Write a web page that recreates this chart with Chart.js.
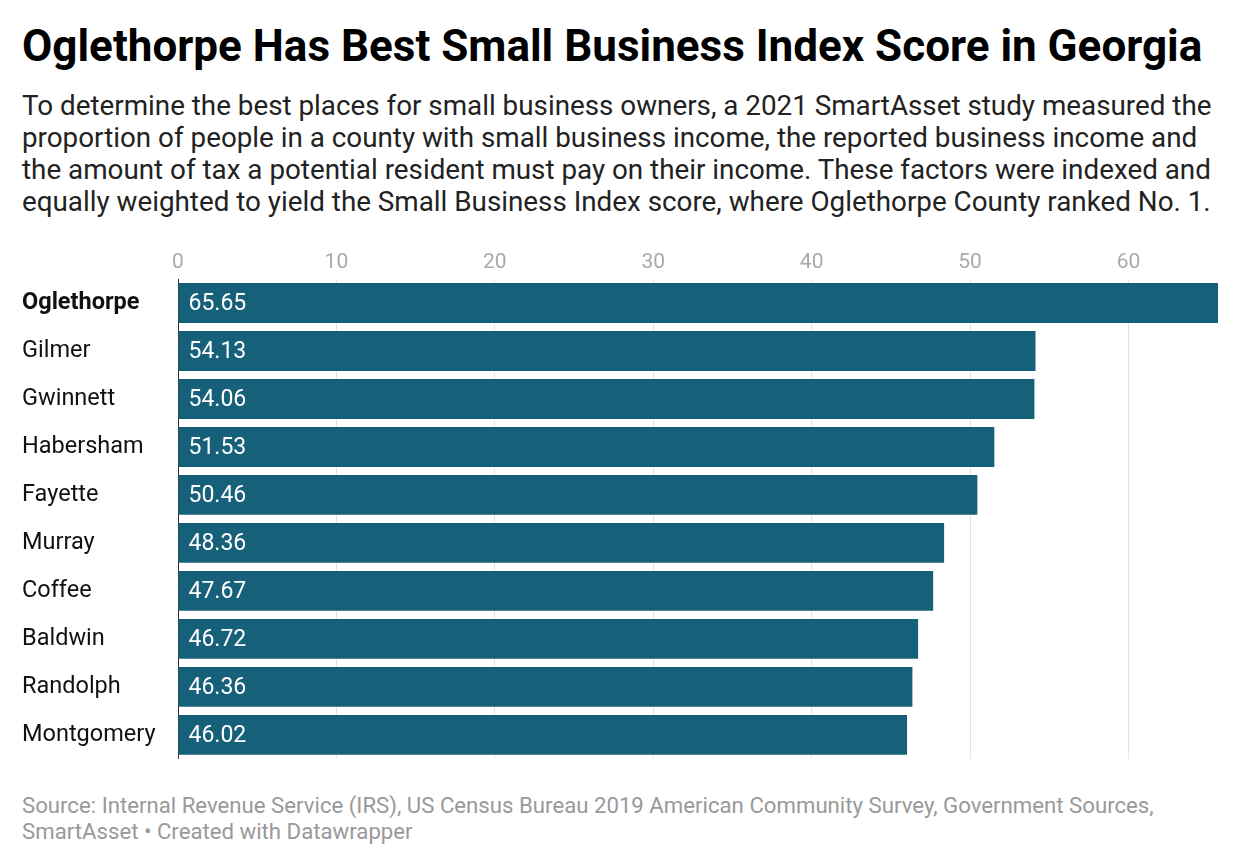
<!DOCTYPE html>
<html><head><meta charset="utf-8">
<script src="https://cdn.jsdelivr.net/npm/chart.js@4"></script>
<style>
body{margin:0;width:1240px;height:866px;background:#fff;font-family:Roboto,sans-serif;position:relative}
#title{position:absolute;left:22px;top:20px;font-size:44px;font-weight:bold;color:#000;white-space:nowrap}
#sub{position:absolute;left:22px;top:90px;width:1218px;font-size:27.8px;line-height:32px;color:#222}
#wrap{position:absolute;left:0;top:241px;width:1240px;height:532px}
#foot{position:absolute;left:22px;top:792px;font-size:22.2px;line-height:26px;color:#999}
</style></head><body>
<div id="title">Oglethorpe Has Best Small Business Index Score in Georgia</div>
<div id="sub">To determine the best places for small business owners, a 2021 SmartAsset study measured the proportion of people in a county with small business income, the reported business income and the amount of tax a potential resident must pay on their income. These factors were indexed and equally weighted to yield the Small Business Index score, where Oglethorpe County ranked No. 1.</div>
<div id="wrap"><canvas id="c" width="1240" height="532"></canvas></div>
<div id="foot">Source: Internal Revenue Service (IRS), US Census Bureau 2019 American Community Survey, Government Sources,<br>SmartAsset • Created with Datawrapper</div>
<script>
// data
var counties = ["Oglethorpe","Gilmer","Gwinnett","Habersham","Fayette","Murray","Coffee","Baldwin","Randolph","Montgomery"];
var scores = [65.65,54.13,54.06,51.53,50.46,48.36,47.67,46.72,46.36,46.02];
var xTicks = [0,10,20,30,40,50,60];

var valueLabels = {
  id: "valueLabels",
  afterDatasetsDraw: function(chart){
    var ctx = chart.ctx, meta = chart.getDatasetMeta(0);
    ctx.save();
    ctx.fillStyle = "#fff";
    ctx.font = "23px Roboto";
    ctx.textBaseline = "middle";
    meta.data.forEach(function(bar, i){
      ctx.fillText(scores[i].toFixed(2), bar.base + 10, bar.y + 1);
    });
    ctx.restore();
  }
};

new Chart(document.getElementById("c"), {
  type: "bar",
  data: {labels: counties, datasets: [{data: scores, backgroundColor: "#17607a", barPercentage: 0.83, categoryPercentage: 1}]},
  options: {
    indexAxis: "y", responsive: false, animation: false,
    layout: {padding: {left: 22, right: 22, bottom: 8}},
    plugins: {legend: {display: false}, tooltip: {enabled: false}},
    scales: {
      x: {
        position: "top", min: 0, max: 65.65,
        afterBuildTicks: function(s){ s.ticks = xTicks.map(function(v){return {value: v};}); },
        afterFit: function(s){ s.height = 38; },
        ticks: {color: "#aaa", font: {family: "Roboto", size: 21}, padding: 4},
        grid: {color: function(c){ return c.tick && c.tick.value === 0 ? "#333" : "#e3e3e3"; }, drawTicks: false},
        border: {display: false}
      },
      y: {
        afterFit: function(s){ s.width = 156; },
        ticks: {crossAlign: "far", color: "#111", padding: 0,
          font: function(c){ return {family: "Roboto", size: 23.5, weight: c.index === 0 ? "bold" : "normal"}; }},
        grid: {display: false},
        border: {display: false}
      }
    }
  },
  plugins: [valueLabels]
});
</script>
</body></html>
